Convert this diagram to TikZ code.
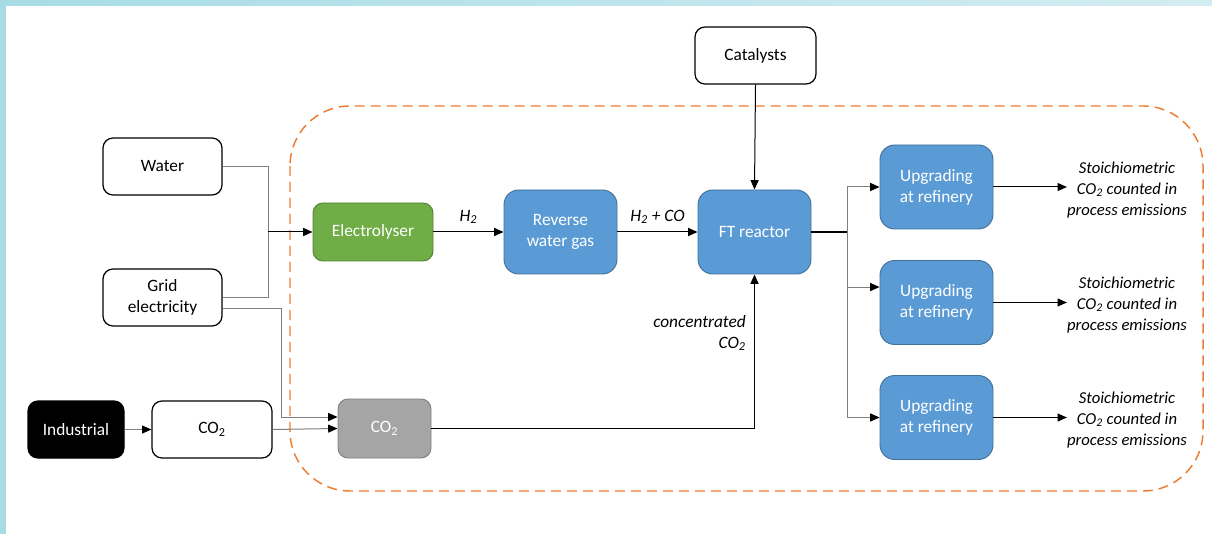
\documentclass[tikz,border=0pt]{standalone}
\usepackage{fontspec}
\setmainfont{Carlito}
\usetikzlibrary{arrows.meta}

\definecolor{frameblue}{HTML}{A8DCE5}
\definecolor{framelight}{HTML}{D3EDF2}
\definecolor{elgreen}{HTML}{70AD47}
\definecolor{elgreenline}{HTML}{548235}
\definecolor{procblue}{HTML}{5B9BD5}
\definecolor{procblueline}{HTML}{41719C}
\definecolor{boxgrey}{HTML}{A5A5A5}
\definecolor{boxgreyline}{HTML}{7F7F7F}
\definecolor{wire}{HTML}{7F7F7F}
\definecolor{boundary}{HTML}{ED7D31}

\tikzset{
  sz/.style 2 args={minimum width=#1*0.75pt, minimum height=#2*0.75pt},
  box/.style={rectangle, rounded corners=7.5pt, inner sep=2pt, align=center,
              font=\fontsize{13}{15.75}\selectfont, line width=0.9pt},
  whitebox/.style={box, draw=black, fill=white, text=black},
  blackbox/.style={box, draw=black, fill=black, text=white},
  greenbox/.style={box, draw=elgreenline, fill=elgreen, text=white, line width=0.7pt},
  bluebox/.style={box, draw=procblueline, fill=procblue, text=white, line width=0.7pt, rounded corners=11pt},
  greybox/.style={box, draw=boxgreyline, fill=boxgrey, text=white, line width=0.7pt},
  note/.style={font=\fontsize{13}{15.75}\selectfont\itshape, align=center, inner sep=0pt},
  emis/.style={note, font=\fontsize{12.5}{15.75}\selectfont\itshape},
  tip/.style={-{Triangle[length=7pt,width=6pt,color=black]}},
  arr/.style={tip, draw=black, line width=0.75pt},
  garr/.style={tip, draw=wire, line width=0.75pt},
  gline/.style={draw=wire, line width=0.75pt},
  bline/.style={draw=black, line width=1.1pt},
}

\begin{document}
\begin{tikzpicture}[x=0.75pt, y=-0.75pt]
  \useasboundingbox (0,0) rectangle (1212,534);
  \fill[white] (0,0) rectangle (1212,534);
  % light blue frame along the top and left edges
  \shade[left color=frameblue, right color=framelight] (0,0) rectangle (1212,6);
  \fill[frameblue] (0,0) rectangle (6,534);

  % process boundary
  \draw[boundary, line width=1.1pt, dash pattern=on 7.5pt off 4.5pt, rounded corners=45pt]
    (290,106) rectangle (1203,491);

  % nodes
  \node[whitebox, sz={121}{57}] (cat) at (755.5,55.5) {Catalysts};
  \node[whitebox, sz={119}{57}] (water) at (162.5,166.5) {Water};
  \node[whitebox, sz={119}{57}] (grid) at (162.5,297.5) {Grid\\electricity};
  \node[greenbox, sz={120}{58}] (elec) at (373,232) {Electrolyser};
  \node[bluebox, sz={113}{84}] (rwg) at (560.5,232) {Reverse\\water gas};
  \node[bluebox, sz={113}{84}] (ft) at (754.5,232) {FT reactor};
  \node[bluebox, sz={113}{84}] (up1) at (936.5,187) {Upgrading\\at refinery};
  \node[bluebox, sz={113}{84}] (up2) at (936.5,302.5) {Upgrading\\at refinery};
  \node[bluebox, sz={113}{84}] (up3) at (936.5,417.5) {Upgrading\\at refinery};
  \node[blackbox, sz={96}{57}] (ind) at (76,429.5) {Industrial};
  \node[whitebox, sz={120}{57}] (co2a) at (212,429.5) {CO\textsubscript{2}};
  \node[greybox, sz={93}{59}] (co2b) at (384.5,428.5) {CO\textsubscript{2}};

  \node[emis] (st1) at (1127,190) {Stoichiometric\\CO\textsubscript{2} counted in\\process emissions};
  \node[emis] (st2) at (1127,305) {Stoichiometric\\CO\textsubscript{2} counted in\\process emissions};
  \node[emis] (st3) at (1127,420) {Stoichiometric\\CO\textsubscript{2} counted in\\process emissions};

  \node[note, anchor=east, align=right] (conc) at (746,333) {concentrated\\CO\textsubscript{2}};

  % junction points
  \coordinate (j1) at (268,232);
  \coordinate (j2) at (847,232);
  \coordinate (c1) at (281,417);

  % power and water to the electrolyser
  \draw[gline] (water.east) -| (j1);
  \draw[gline] (grid.east) -| (j1);
  \draw[arr] (j1) -- (elec.west);

  % CO2 supply chain
  \draw[garr] (ind.east) -- (co2a.west);
  \draw[garr] (co2a.east) -- (co2b.west);
  \draw[garr] ([yshift=-7.9pt]grid.east) -| (c1) -- (c1 -| co2b.west);
  \draw[arr] (co2b.east) -| (ft.south);

  % main synthesis line
  \draw[arr] (elec.east) -- node[note, above=6pt] {H\textsubscript{2}} (rwg.west);
  \draw[arr] (rwg.east) -- node[note, above=6pt] {H\textsubscript{2} + CO} (ft.west);
  \draw[arr] (cat.south) -- (ft.north);

  % product split to upgrading
  \draw[bline] (ft.east) -- (j2);
  \draw[garr] (j2) |- (up1.west);
  \draw[garr] (j2) |- ([yshift=11.6pt]up2.west);
  \draw[garr] (j2) |- (up3.west);

  % emissions accounting
  \draw[arr] (up1.east) -- (up1.east -| st1.west);
  \draw[arr] (up2.east) -- (up2.east -| st2.west);
  \draw[arr] (up3.east) -- (up3.east -| st3.west);
\end{tikzpicture}
\end{document}
